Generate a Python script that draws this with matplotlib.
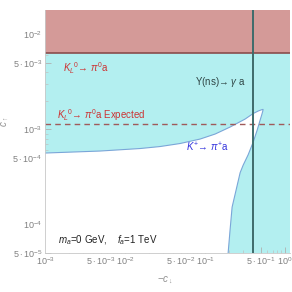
import numpy as np
import matplotlib
matplotlib.use("Agg")
import matplotlib.pyplot as plt
from matplotlib.ticker import FixedLocator, NullFormatter, LogLocator

plt.rcParams['font.family'] = ['Liberation Sans', 'DejaVu Sans']
plt.rcParams['mathtext.fontset'] = 'custom'
plt.rcParams['mathtext.rm'] = 'Liberation Sans'
plt.rcParams['mathtext.it'] = 'Liberation Sans:italic'
plt.rcParams['mathtext.bf'] = 'Liberation Sans:bold'

# ---- data ----
xlim = (1e-3, 1.15)
ylim = (5e-5, 0.018)

# K+ -> pi+ a allowed (white) region boundary: upper edge (left to tip)
upper_x = [1e-3, 4.87e-3, 0.0154, 0.0274, 0.0487, 0.0866, 0.1334, 0.2054, 0.316, 0.398, 0.46, 0.516]
upper_y = [5.63e-4, 5.91e-4, 6.28e-4, 6.59e-4, 7.09e-4, 7.9e-4, 8.92e-4, 1.057e-3, 1.282e-3, 1.465e-3, 1.557e-3, 1.614e-3]
# right edge (tip down to bottom)
right_x = [0.53, 0.525, 0.51, 0.487, 0.447, 0.398, 0.345, 0.299, 0.274, 0.244, 0.2175, 0.205, 0.194]
right_y = [1.62e-3, 1.55e-3, 1.42e-3, 1.25e-3, 9.8e-4, 7.3e-4, 5.4e-4, 4.2e-4, 3.5e-4, 2.3e-4, 1.52e-4, 8.7e-5, 5e-5]

kl_bound = 6.3e-3          # K_L -> pi0 a excluded above
kl_expected = 1.13e-3      # expected sensitivity
upsilon_x = 0.4            # Y(ns) -> gamma a

xticks_major = [1e-3, 5e-3, 1e-2, 5e-2, 1e-1, 5e-1, 1.0]
xtick_labels = [r"$10^{-3}$", r"$5\cdot10^{-3}$", r"$10^{-2}$", r"$5\cdot10^{-2}$",
                r"$10^{-1}$", r"$5\cdot10^{-1}$", r"$10^{0}$"]
yticks_major = [5e-5, 1e-4, 5e-4, 1e-3, 5e-3, 1e-2]
ytick_labels = [r"$5\cdot10^{-5}$", r"$10^{-4}$", r"$5\cdot10^{-4}$", r"$10^{-3}$",
                r"$5\cdot10^{-3}$", r"$10^{-2}$"]

# ---- plot ----
fig = plt.figure(figsize=(2.92, 2.92), dpi=100)
ax = fig.add_axes([45/292, (292-253)/292, 245/292, 243/292])
ax.set_xscale('log')
ax.set_yscale('log')
ax.set_xlim(*xlim)
ax.set_ylim(*ylim)

cyan = '#b3eff0'
ax.fill_between([xlim[0], xlim[1]], ylim[0], ylim[1], color=cyan, lw=0, zorder=1)

wx = list(upper_x) + list(right_x) + [xlim[0]]
wy = list(upper_y) + list(right_y) + [ylim[0]]
ax.fill(wx, wy, color='white', lw=0, zorder=2)
ax.plot(list(upper_x) + list(right_x), list(upper_y) + list(right_y),
        color='#7aa6d8', lw=0.8, zorder=3, solid_joinstyle='round')

ax.fill_between([xlim[0], xlim[1]], kl_bound, ylim[1], color='#d49a98', lw=0, zorder=4)
ax.axhline(kl_bound, color='#8a4c4c', lw=1.2, zorder=5)
ax.axhline(kl_expected, color='#a05a5a', lw=1.0, ls=(0, (4, 3)), zorder=5)
ax.axvline(upsilon_x, color='#3e6b6b', lw=1.4, zorder=6)

ax.text(0.073, 0.761, r"$K_L$$^0$→ $\pi^0$a", transform=ax.transAxes, color='#cc3333',
        fontsize=7, va='center', ha='left', zorder=7)
ax.text(0.049, 0.568, r"$K_L$$^0$→ $\pi^0$a Expected", transform=ax.transAxes, color='#cc3333',
        fontsize=7, va='center', ha='left', zorder=7)
ax.text(0.612, 0.704, r"Y(ns)→ $\gamma$ a", transform=ax.transAxes, color='#2f4545',
        fontsize=7, va='center', ha='left', zorder=7)
ax.text(0.576, 0.436, r"$K^{+}$→ $\pi^{+}$a", transform=ax.transAxes, color='#3333dd',
        fontsize=7, va='center', ha='left', zorder=7)
ax.text(0.053, 0.053, r"$m_a$=0 GeV,    $f_a$=1 TeV", transform=ax.transAxes, color='#222222',
        fontsize=7, va='center', ha='left', zorder=7)

ax.xaxis.set_major_locator(FixedLocator(xticks_major))
ax.set_xticklabels(xtick_labels)
ax.yaxis.set_major_locator(FixedLocator(yticks_major))
ax.set_yticklabels(ytick_labels)
ax.xaxis.set_minor_locator(LogLocator(base=10, subs=(2, 3, 4, 6, 7, 8, 9)))
ax.yaxis.set_minor_locator(LogLocator(base=10, subs=(2, 3, 4, 6, 7, 8, 9)))
ax.xaxis.set_minor_formatter(NullFormatter())
ax.yaxis.set_minor_formatter(NullFormatter())
ax.tick_params(which='major', direction='in', length=4, width=0.6, color='#b0b0b0',
               labelsize=6.5, labelcolor='#808080', pad=2)
ax.tick_params(which='minor', direction='in', length=2, width=0.5, color='#c0c0c0')
ax.tick_params(top=False, right=False, which='both')
for s in ['top', 'right']:
    ax.spines[s].set_visible(False)
for s in ['left', 'bottom']:
    ax.spines[s].set_color('#c8c8c8')
    ax.spines[s].set_linewidth(0.6)
    ax.spines[s].set_zorder(10)

ax.set_xlabel(r"$-c_{\downarrow}$", color='#909090', fontsize=7)
ax.set_ylabel(r"$c_{\uparrow}$", color='#909090', fontsize=7)
ax.xaxis.set_label_coords(0.49, -0.09)
ax.yaxis.set_label_coords(-0.135, 0.54)

fig.savefig('out.png', dpi=100)
